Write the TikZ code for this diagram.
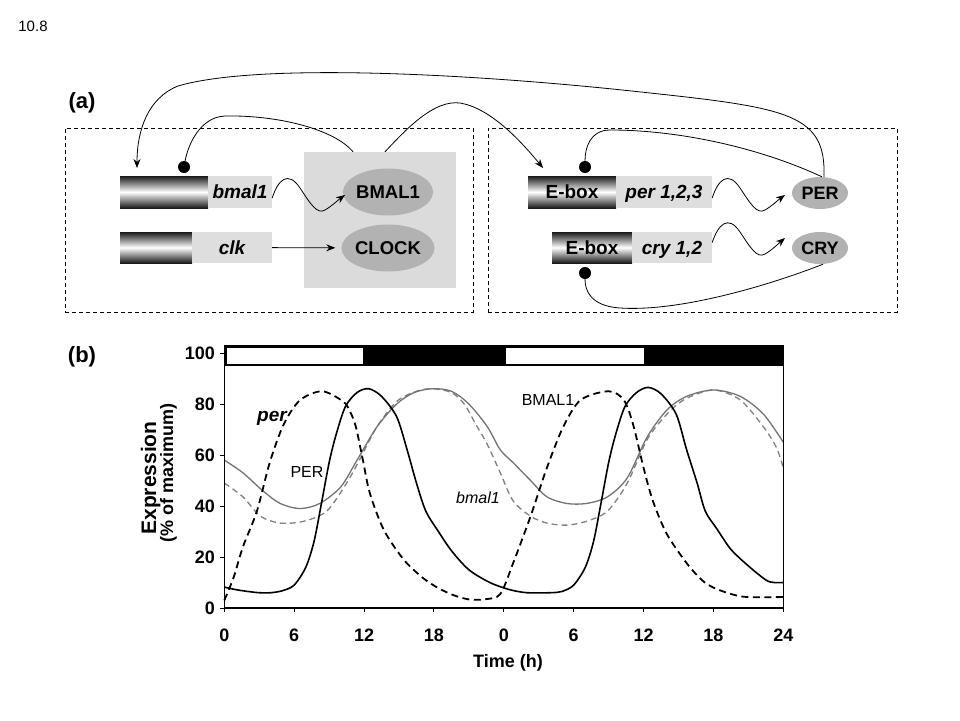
\documentclass[tikz,border=0pt]{standalone}
\usepackage{fontspec}
\setmainfont{Liberation Sans}
\usetikzlibrary{arrows.meta,shapes.geometric}
\begin{document}
\begin{tikzpicture}[x=1pt,y=-1pt,
  arr/.style={-{Stealth[length=9pt,width=7pt]}, line width=0.8pt},
  inh/.style={line width=0.8pt},
  dotn/.style={circle, fill=black, inner sep=0pt, minimum size=12pt},
  genegrad/.style={rectangle, inner sep=0pt, top color=black!90, bottom color=black!90, middle color=white, text height=13.6pt, text depth=0pt, font=\bfseries\fontsize{19}{19}\selectfont},
  genelab/.style={rectangle, inner sep=0pt, fill=black!13, text height=13.6pt, text depth=0pt, font=\bfseries\itshape\fontsize{19}{19}\selectfont},
  prot/.style={ellipse, fill=black!30, inner sep=0pt, text height=13pt, text depth=0pt, font=\bfseries\fontsize{18.5}{18.5}\selectfont},
  dbox/.style={draw, dash pattern=on 4pt off 3pt, line width=0.7pt},
  panel/.style={font=\bfseries\fontsize{22}{22}\selectfont},
  ticklab/.style={font=\bfseries\fontsize{18}{18}\selectfont, inner sep=0pt},
  plotlab/.style={font=\fontsize{16}{16}\selectfont, inner sep=0pt},
  pblack/.style={line width=1.6pt, black},
  pdash/.style={line width=1.8pt, black, dash pattern=on 7pt off 4.5pt},
  pgrey/.style={line width=1.3pt, black!55},
  pgreydash/.style={line width=1.3pt, black!50, dash pattern=on 6pt off 4pt}
]
\useasboundingbox (0,0) rectangle (960,720);
\fill[white] (0,0) rectangle (960,720);

\node[font=\fontsize{15}{15}\selectfont, inner sep=0pt] (fig) at (33,26) {10.8};
\node[panel, inner sep=0pt] (pa) at (82,103) {(a)};
\node[panel, inner sep=0pt] (pb) at (82,357) {(b)};

% dashed panels
\node[dbox, minimum width=408pt, minimum height=184pt, inner sep=0pt] (boxL) at (269,220) {};
\node[dbox, minimum width=409pt, minimum height=184pt, inner sep=0pt] (boxR) at (692.5,220) {};

% left panel
\node[fill=black!14, minimum width=152pt, minimum height=136pt, inner sep=0pt] (core) at (380,220) {};
\node[genegrad, minimum width=88pt, minimum height=32pt] (bmalG) at (164,192) {};
\node[genelab, minimum width=64pt, minimum height=32pt] (bmalL) at (240,192) {bmal1};
\node[genegrad, minimum width=72pt, minimum height=31pt] (clkG) at (156,247.5) {};
\node[genelab, minimum width=80pt, minimum height=31pt] (clkL) at (232,247.5) {clk};
\node[prot, minimum width=89pt, minimum height=47pt] (BMAL) at (388,192) {BMAL1};
\node[prot, minimum width=89pt, minimum height=47pt] (CLOCK) at (388,248) {CLOCK};
\node[dotn] (d1) at (184,167) {};

% right panel
\node[genegrad, minimum width=88pt, minimum height=32pt] (eboxP) at (572,192) {E-box};
\node[genelab, minimum width=96pt, minimum height=32pt] (perL) at (664,192) {per 1,2,3};
\node[genegrad, minimum width=80pt, minimum height=31pt] (eboxC) at (592,247.5) {E-box};
\node[genelab, minimum width=80pt, minimum height=31pt] (cryL) at (672,247.5) {cry 1,2};
\node[prot, minimum width=56pt, minimum height=32pt, font=\bfseries\fontsize{18}{18}\selectfont] (PER) at (820,193) {PER};
\node[prot, minimum width=56pt, minimum height=32pt, font=\bfseries\fontsize{18}{18}\selectfont] (CRY) at (820,248) {CRY};
\node[dotn] (d2) at (585,167) {};
\node[dotn] (d3) at (585,273) {};

\coordinate (tipA) at (137,168);
\coordinate (tipB) at (543,168);
\coordinate (tipC) at (345,195);
\coordinate (tipD) at (785,195);
\coordinate (tipE) at (785,238);

% connectors
\draw[arr] ([xshift=4pt]PER.north) .. controls (826,115) and (790,108) .. (650,93)
   .. controls (480,74) and (260,62) .. (178,86) .. controls (148,98) and (137,130) .. (tipA);
\draw[arr] ([xshift=5pt]core.north) .. controls (410,125) and (435,100) .. (460,103)
   .. controls (490,108) and (520,140) .. (tipB);
\draw[inh] ([xshift=-27pt]core.north) .. controls (335,130) and (280,115) .. (225,116)
   .. controls (200,117) and (188,145) .. (d1);
\draw[inh] ([xshift=2pt]PER.north) .. controls (760,148) and (680,130) .. (610,130)
   .. controls (590,130) and (585,148) .. (d2);
\draw[inh] ([xshift=3pt]CRY.south) .. controls (770,285) and (680,312) .. (620,308)
   .. controls (590,306) and (585,290) .. (d3);
\draw[arr] ([yshift=-6pt]bmalL.east) .. controls (278,180) and (288,170) .. (300,188)
   .. controls (310,203) and (317,215) .. (325,210) .. controls (332,206) and (338,200) .. (tipC);
\draw[arr] ([yshift=-6pt]perL.east) .. controls (718,180) and (728,170) .. (740,188)
   .. controls (750,203) and (757,215) .. (765,210) .. controls (772,206) and (778,200) .. (tipD);
\draw[arr] ([yshift=5pt]cryL.east) .. controls (718,225) and (728,214) .. (740,232)
   .. controls (750,247) and (757,259) .. (765,254) .. controls (772,250) and (778,244) .. (tipE);
\draw[arr, shorten >=6pt] (clkL) -- (CLOCK);

% plot
\begin{scope}[shift={(224.3,608)}, x=11.646pt, y=2.55pt]
  \fill[black] (0,102.75) rectangle (48,94.9);
  \fill[white] (0.2,101.8) rectangle (11.94,95.7);
  \fill[white] (24.19,101.8) rectangle (36.04,95.7);
  \foreach \t in {0,6,...,48} \draw[line width=1pt] (\t,0) -- (\t,-1.6);
  \foreach \v in {0,20,...,100} \draw[line width=1pt] (0,\v) -- (-0.35,\v);
  \draw[pgreydash] plot[smooth] coordinates {(0,49) (1.6,43.6) (3.1,36) (4.8,33.3) (6.8,34) (8.8,38) (10.5,49) (11.6,58) (13.1,71) (14.8,81) (16.5,85) (17.9,86) (19.5,84.5) (20.6,80) (21.6,72) (22.6,64) (23.7,53) (24.8,42) (26.3,36) (27.7,33.3) (29.4,32.5) (31.1,34) (32.9,38) (34.6,49) (36.3,66) (38,76) (39.6,82) (42,85.5) (44.3,81.6) (46.3,71) (47.4,63) (48,55)};
  \draw[pgrey] plot[smooth] coordinates {(0,58) (1.6,53) (3.3,46) (4.8,41) (6.5,39) (8.2,41) (10,47.5) (11.4,58) (13.1,71) (14.8,80) (16.3,84.5) (17.9,86) (19.5,85) (21,80) (22.6,71) (23.7,62) (24.8,57) (26.3,50) (27.7,43.6) (29.4,41) (31.1,41) (32.9,43.6) (34.6,51) (36.3,67) (38,77.6) (39.7,83) (42,85.5) (44.3,83) (46.3,76) (48,65)};
  \draw[pdash] plot[smooth] coordinates {(0,3) (0.8,12) (1.6,24) (2.8,38) (3.9,57) (5.1,72) (6.5,81.5) (8.4,85) (10.2,81) (10.8,77) (11.3,71) (11.9,58) (12.5,45) (13.7,30.6) (15.4,19) (17,12) (18.3,8) (19.7,5) (21.1,3.3) (22.5,3.5) (23.7,5.5) (24.8,17.6) (26.3,36) (27.7,55) (29.1,71) (30.6,81.6) (33,85) (34.3,81.6) (35.1,72) (36,55) (36.8,42) (38,29) (39.7,17.6) (41,11) (42,8) (43.5,5.5) (44.9,4.3) (48,4.3)};
  \draw[pblack] plot[smooth] coordinates {(0,8.2) (1,7.2) (2,6.5) (3,6) (4,6) (5,6.8) (6,9) (7,16) (7.7,26) (8.3,40) (9,57) (9.6,68) (10.4,79) (11.4,84.5) (12.4,86) (13.5,83) (14.8,75) (15.7,62) (16.5,49) (17.3,38) (18.3,30.6) (19.5,22.5) (21,15) (22.8,10) (24.5,7.2) (26,6) (28,6) (29,6.5) (30,9) (31,16) (31.7,26) (32.3,40) (33,57) (33.6,68) (34.4,79) (35.4,84.5) (36.4,86.5) (37.5,84) (38.8,76) (39.7,62) (40.6,49) (41.3,38) (42.3,31) (43.5,23) (45,16.5) (46.5,11) (47.2,10) (48,10)};
  \draw[line width=1.4pt] (0,0) rectangle (48,102.75);
\end{scope}

\foreach \v in {0,20,...,100} \node[ticklab, anchor=east] (yt\v) at (215,{608-2.55*\v}) {\v};
\foreach \lab [count=\i from 0] in {0,6,12,18,0,6,12,18,24} \node[ticklab] (xt\i) at ({224.3+69.875*\i},635) {\lab};
\node[ticklab] (xlab) at (508,663) {Time (h)};
\node[ticklab, font=\bfseries\fontsize{21}{21}\selectfont, rotate=90, anchor=base] (ylab1) at (156,478) {Expression};
\node[ticklab, font=\bfseries\fontsize{18}{18}\selectfont, rotate=90, anchor=base] (ylab2) at (173,473) {(\% of maximum)};

\node[font=\bfseries\itshape\fontsize{19}{19}\selectfont, inner sep=0pt] (lper) at (272,418) {per};
\node[plotlab] (lPER) at (307,472) {PER};
\node[plotlab, font=\itshape\fontsize{16}{16}\selectfont] (lbmal) at (478,498) {bmal1};
\node[plotlab] (lBMAL) at (548,400) {BMAL1};
\end{tikzpicture}
\end{document}
